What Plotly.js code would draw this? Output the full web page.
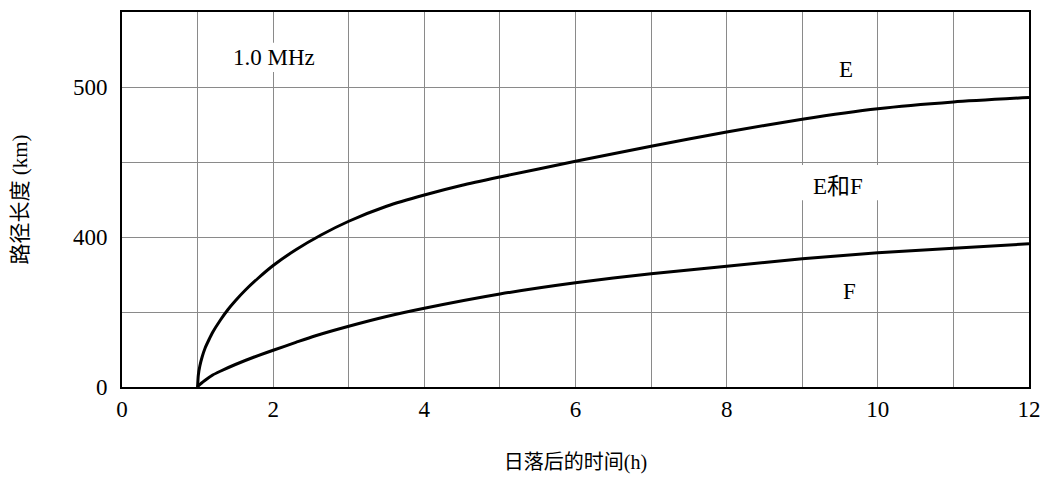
<!DOCTYPE html>
<html>
<head>
<meta charset="utf-8">
<script src="https://cdn.plot.ly/plotly-3.0.1.min.js"></script>
<style>html,body{margin:0;padding:0;background:#fff;}#chart{width:1054px;height:478px;}</style>
</head>
<body>
<div id="chart"></div>
<script>
// Hours after sunset
const xTickVals = [0,1,2,3,4,5,6,7,8,9,10,11,12];
const xTickText = ["0","","2","","4","","6","","8","","10","","12"];
// Vertical axis is drawn in grid rows; labelled rows carry km values
const yTickVals = [0,1,2,3,4,5];
const yTickText = ["0","","400","","500",""];

const hoursE = [1, 1.01, 1.03, 1.06, 1.1, 1.15, 1.2, 1.3, 1.4, 1.5, 1.63, 1.8, 2, 2.3, 2.64, 3, 3.5, 4, 4.5, 5, 6, 7, 8, 9, 10, 11, 12];
const pathE  = [0, 0.16, 0.28, 0.4, 0.52, 0.63, 0.73, 0.89, 1.03, 1.15, 1.29, 1.45, 1.62, 1.83, 2.03, 2.21, 2.41, 2.56, 2.69, 2.8, 3.01, 3.21, 3.4, 3.57, 3.71, 3.8, 3.86];

const hoursF = [1, 1.02, 1.1, 1.2, 1.3, 1.5, 1.75, 2, 2.3, 2.55, 3, 3.5, 4, 5, 6, 7, 8, 9, 10, 11, 12];
const pathF  = [0, 0.025, 0.09, 0.16, 0.21, 0.3, 0.4, 0.49, 0.595, 0.68, 0.81, 0.94, 1.05, 1.24, 1.39, 1.51, 1.61, 1.71, 1.79, 1.85, 1.91];

const labelText = ["1.0 MHz", "E", "E和F", "F"];
const labelX = [2.01, 9.58, 9.47, 9.63];
const labelY = [4.39, 4.23, 2.68, 1.27];

const FONT = "Liberation Serif, Times New Roman, Noto Sans CJK SC, serif";

const lineStyle = {color: "#000", width: 3, shape: "spline", smoothing: 0.6};
const traces = [
  {x: hoursE, y: pathE, mode: "lines", line: lineStyle, name: "E", hoverinfo: "skip"},
  {x: hoursF, y: pathF, mode: "lines", line: lineStyle, name: "F", hoverinfo: "skip"}
];

const annotations = labelText.map((t, i) => ({
  x: labelX[i], y: labelY[i], xref: "x", yref: "y", text: t, showarrow: false,
  font: {family: FONT, size: 23, color: "#000"}
}));

const shapes = [
  {type: "rect", xref: "x", yref: "y", x0: 1.43, x1: 2.59, y0: 4.2, y1: 4.59,
   fillcolor: "#fff", line: {width: 0}, layer: "between"},
  {type: "rect", xref: "x", yref: "y", x0: 8.97, x1: 10.06, y0: 2.49, y1: 2.96,
   fillcolor: "#fff", line: {width: 0}, layer: "between"}
];

const layout = {
  width: 1054, height: 478,
  margin: {l: 122, r: 25, t: 12, b: 91},
  paper_bgcolor: "#fff", plot_bgcolor: "#fff",
  showlegend: false,
  font: {family: FONT, size: 23, color: "#000"},
  xaxis: {
    range: [0, 12], tickvals: xTickVals, ticktext: xTickText,
    showgrid: true, gridcolor: "#8a8a8a", gridwidth: 1,
    zeroline: false, showline: true, linecolor: "#000", linewidth: 2, mirror: true,
    ticks: "", tickfont: {family: FONT, size: 23},
    title: {text: "日落后的时间(h)", font: {family: FONT, size: 20}, standoff: 34}
  },
  yaxis: {
    range: [0, 5], tickvals: yTickVals, ticktext: yTickText,
    showgrid: true, gridcolor: "#8a8a8a", gridwidth: 1,
    zeroline: false, showline: true, linecolor: "#000", linewidth: 2, mirror: true,
    ticks: "", ticklabelstandoff: 8, tickfont: {family: FONT, size: 23},
    title: {text: "路径长度 (km)", font: {family: FONT, size: 21}, standoff: 40}
  },
  annotations: annotations,
  shapes: shapes
};

Plotly.newPlot("chart", traces, layout, {displayModeBar: false, staticPlot: true});
</script>
</body>
</html>
